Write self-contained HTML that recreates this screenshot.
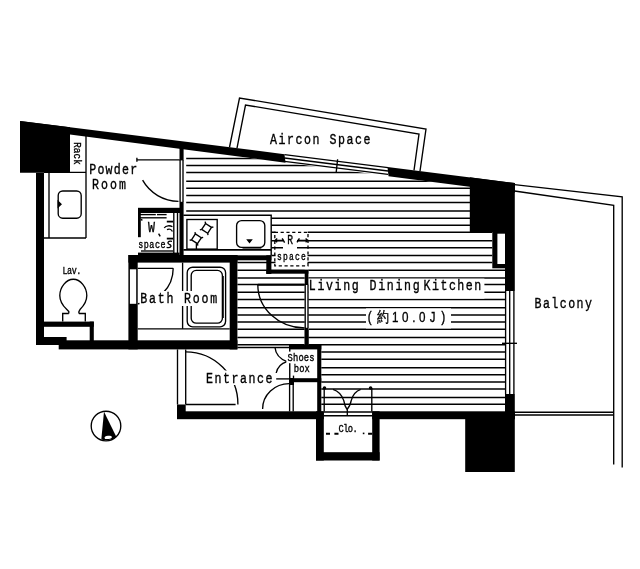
<!DOCTYPE html>
<html><head><meta charset="utf-8"><title>Floor plan</title>
<style>html,body{margin:0;padding:0;background:#fff;}svg{display:block;filter:grayscale(1);}text{font-family:"Liberation Mono",monospace;fill:#000;stroke:#000;stroke-width:0.35px;}</style>
</head><body>
<svg width="640" height="569" viewBox="0 0 640 569">
<rect x="0" y="0" width="640" height="569" fill="#fff"/>
<defs><clipPath id="hc"><polygon points="186.2,149.75 470,186.76 470,232 492.3,232 492.3,268.3 505,268.3 505,412 321.3,412 321.3,346 308.4,346 308.4,269.7 271.4,269.7 271.4,215.2 186.2,215.2"/><polygon points="237.4,260.3 304.7,260.3 304.7,346 237.4,346"/></clipPath></defs>
<g clip-path="url(#hc)" stroke="#000" stroke-width="1.5">
<line x1="180" y1="158.4" x2="510" y2="158.4"/>
<line x1="180" y1="165.4" x2="510" y2="165.4"/>
<line x1="180" y1="172.5" x2="510" y2="172.5"/>
<line x1="180" y1="181.3" x2="510" y2="181.3"/>
<line x1="180" y1="188.25" x2="510" y2="188.25"/>
<line x1="180" y1="195.4" x2="510" y2="195.4"/>
<line x1="180" y1="202.5" x2="510" y2="202.5"/>
<line x1="180" y1="211.1" x2="510" y2="211.1"/>
<line x1="180" y1="218.15" x2="510" y2="218.15"/>
<line x1="180" y1="225.25" x2="510" y2="225.25"/>
<line x1="180" y1="232.25" x2="510" y2="232.25"/>
<line x1="180" y1="240.75" x2="510" y2="240.75"/>
<line x1="180" y1="247.75" x2="510" y2="247.75"/>
<line x1="180" y1="255.4" x2="510" y2="255.4"/>
<line x1="180" y1="262.4" x2="510" y2="262.4"/>
<line x1="180" y1="270.2" x2="510" y2="270.2"/>
<line x1="180" y1="277.9" x2="510" y2="277.9"/>
<line x1="180" y1="284.6" x2="510" y2="284.6"/>
<line x1="180" y1="292.3" x2="510" y2="292.3"/>
<line x1="180" y1="299.5" x2="510" y2="299.5"/>
<line x1="180" y1="307.7" x2="510" y2="307.7"/>
<line x1="180" y1="315" x2="510" y2="315"/>
<line x1="180" y1="322" x2="510" y2="322"/>
<line x1="180" y1="329.15" x2="510" y2="329.15"/>
<line x1="180" y1="337.6" x2="510" y2="337.6"/>
<line x1="180" y1="344.8" x2="510" y2="344.8"/>
<line x1="180" y1="351.9" x2="510" y2="351.9"/>
<line x1="180" y1="359.2" x2="510" y2="359.2"/>
<line x1="180" y1="367.85" x2="510" y2="367.85"/>
<line x1="180" y1="374.7" x2="510" y2="374.7"/>
<line x1="180" y1="381.9" x2="510" y2="381.9"/>
<line x1="180" y1="389" x2="510" y2="389"/>
<line x1="180" y1="397.6" x2="510" y2="397.6"/>
<line x1="180" y1="404.3" x2="510" y2="404.3"/>
</g>
<rect x="308.4" y="278.6" width="176" height="20" fill="#fff"/>
<rect x="366" y="308.4" width="85" height="20" fill="#fff"/>
<rect x="283" y="234" width="14" height="17" fill="#fff"/>
<rect x="275.6" y="231" width="32" height="2.6" fill="#fff"/>
<rect x="275.5" y="250" width="32" height="15.2" fill="#fff"/>
<polygon points="20,121 284.5,154.14 285.5,162.7 20,128.08" fill="#000"/>
<polygon points="387.5,167.05 515,183.02 515,192.63 388.5,176.13" fill="#000"/>
<polygon points="20,121 70,127.27 70,172.8 20,172.8" fill="#000"/>
<polygon points="469.8,177.36 514.8,183 514.8,232 469.8,232" fill="#000"/>
<rect x="505" y="232" width="9.8" height="59" fill="#000"/>
<rect x="492.3" y="232" width="12.7" height="36.3" fill="#000"/>
<rect x="497.4" y="233.7" width="7.6" height="30.3" fill="#fff"/>
<rect x="505" y="394" width="9.8" height="25.2" fill="#000"/>
<rect x="465.2" y="412" width="49.6" height="60" fill="#000"/>
<rect x="177" y="411.3" width="146.8" height="7.9" fill="#000"/>
<rect x="372.2" y="411.3" width="142.6" height="7.9" fill="#000"/>
<rect x="316" y="411.3" width="7.8" height="49.2" fill="#000"/>
<rect x="372.2" y="411.3" width="7.4" height="49.2" fill="#000"/>
<rect x="316" y="452.2" width="63.6" height="8.3" fill="#000"/>
<rect x="36" y="172.8" width="8" height="172.2" fill="#000"/>
<rect x="36" y="337" width="30.6" height="8" fill="#000"/>
<rect x="58.7" y="340.3" width="178.7" height="9.1" fill="#000"/>
<rect x="44" y="321.6" width="49.8" height="5.2" fill="#000"/>
<rect x="89.7" y="321.6" width="4.1" height="19.4" fill="#000"/>
<rect x="128.4" y="255" width="9.3" height="94.4" fill="#000"/>
<rect x="128.4" y="255" width="109" height="7.6" fill="#000"/>
<rect x="229.7" y="255" width="7.7" height="94.4" fill="#000"/>
<rect x="129.9" y="269.3" width="6.3" height="34.5" fill="#fff"/>
<rect x="237" y="255.3" width="34.4" height="5" fill="#000"/>
<rect x="266.3" y="255.3" width="5.1" height="18.7" fill="#000"/>
<rect x="266.3" y="270" width="42.1" height="3.7" fill="#000"/>
<rect x="304.7" y="270" width="3.7" height="15" fill="#000"/>
<rect x="304.7" y="327.8" width="3.7" height="18.2" fill="#000"/>
<rect x="179.5" y="144.05" width="4.1" height="16.35" fill="#000"/>
<rect x="179.5" y="201.8" width="4.1" height="54.2" fill="#000"/>
<rect x="138" y="207.8" width="42" height="5.2" fill="#000"/>
<rect x="138" y="213" width="2.8" height="24.2" fill="#000"/>
<rect x="138" y="252.6" width="41.6" height="3.4" fill="#000"/>
<rect x="289" y="345" width="32.3" height="4.4" fill="#000"/>
<rect x="317.2" y="345" width="4.1" height="67" fill="#000"/>
<rect x="289" y="378.2" width="32.3" height="4" fill="#000"/>
<rect x="289" y="378" width="5" height="7" fill="#000"/>
<rect x="304.7" y="330" width="3.9" height="16" fill="#000"/>
<rect x="177" y="404.5" width="8.7" height="14.5" fill="#000"/>
<g fill="none" stroke="#000" stroke-width="1.35" stroke-linecap="butt" stroke-linejoin="miter">
<polyline points="229.5,147.25 239.5,98 426,129 420,171.12"/>
<polyline points="237,148.19 245.5,105 419,134 414,170.37"/>
<line x1="284.5" y1="154.64" x2="388" y2="167.61"/>
<line x1="284.5" y1="158.04" x2="388" y2="171.01"/>
<line x1="284.5" y1="161.44" x2="388" y2="174.41"/>
<line x1="337.6" y1="159.2" x2="336.2" y2="172.4"/>
<polyline points="514.5,184.7 622.2,196.8 622.2,467.5"/>
<polyline points="514.5,191 613.7,205.4 613.7,464.6"/>
<line x1="514.5" y1="412.2" x2="613.7" y2="412.2"/>
<line x1="514.5" y1="415" x2="613.7" y2="415"/>
<line x1="505.6" y1="291" x2="505.6" y2="394"/>
<line x1="509.7" y1="291" x2="509.7" y2="394"/>
<line x1="513.9" y1="291" x2="513.9" y2="394"/>
<line x1="502" y1="343.3" x2="517" y2="343.3"/>
<line x1="86" y1="133.27" x2="86" y2="238"/>
<line x1="44" y1="172.4" x2="86" y2="172.4"/>
<line x1="49" y1="172.8" x2="49" y2="238"/>
<line x1="44" y1="238" x2="86" y2="238"/>
<rect x="58.2" y="191" width="23" height="27.2" rx="4.5" ry="4.5"/>
<path d="M58.2 201.5 L61 204.3 L58.2 207 Z" fill="#000"/>
<line x1="136.9" y1="159.8" x2="179.8" y2="159.8"/>
<line x1="136.9" y1="157.8" x2="136.9" y2="161.8"/>
<line x1="180.1" y1="160" x2="180.1" y2="202"/>
<line x1="183" y1="160" x2="183" y2="202"/>
<path d="M142.6 180.2 A41.8 41.8 0 0 0 178.5 201.4"/>
<path d="M68.8 313.5 L68.8 311.6 L66.6 309.2 C 62.6 305.5, 59.8 301.5, 59.8 295.5 C 59.8 287.5, 66 279.2, 73.3 279.2 C 80.6 279.2, 86.8 287.5, 86.8 295.5 C 86.8 301.5, 84 305.5, 80.2 309.2 L78.9 311.6 L78.9 313.5"/>
<polyline points="68.8,313.5 62.7,313.5 62.7,321.6"/>
<polyline points="78.9,313.5 85.3,313.5 85.3,321.6"/>
<line x1="138" y1="214.6" x2="155.8" y2="214.6"/>
<line x1="157" y1="214.6" x2="166.6" y2="214.6"/>
<line x1="139.5" y1="217.8" x2="166.6" y2="217.8"/>
<line x1="173.8" y1="211" x2="173.8" y2="253"/>
<line x1="177.5" y1="213" x2="177.5" y2="253"/>
<line x1="141" y1="251" x2="173" y2="251"/>
<polyline points="140.8,219.2 142.4,220.4"/>
<path d="M166.8 221.6 H173" stroke-width="1.8"/>
<path d="M164.2 228 C166 225.4,170 225.2,172.4 226.8 M167 229.6 C169 228.6,171.4 229,172.4 231.6" stroke-width="1.3"/>
<path d="M166.8 238.6 H173" stroke-width="1.8"/>
<path d="M172 241.4 C168 240.6,166.6 243.2,169.4 244.4 C172.4 245.6,171 248.4,166.6 247.4" stroke-width="1.3"/>
<path d="M158.6 233.6 L160.2 236.4" stroke-width="1.4"/>
<polyline points="183.4,215.3 271.2,215.3 271.2,255.3" stroke-width="1.4"/>
<line x1="183.4" y1="249.9" x2="271.2" y2="249.9" stroke-width="1.8"/>
<rect x="186.9" y="219.5" width="30.3" height="29.6"/>
<g transform="translate(196.4 238.8) rotate(-12)"><polygon points="0,-5 5,0 0,5 -5,0" stroke-linejoin="round"/>
<line x1="-5" y1="0" x2="-6.9" y2="0"/>
<line x1="5" y1="0" x2="6.9" y2="0"/>
<line x1="0" y1="-5" x2="0" y2="-6.9"/>
<line x1="0" y1="5" x2="0" y2="6.9"/>
</g>
<g transform="translate(206.6 228.4) rotate(-12)"><polygon points="0,-5 5,0 0,5 -5,0" stroke-linejoin="round"/>
<line x1="-5" y1="0" x2="-6.9" y2="0"/>
<line x1="5" y1="0" x2="6.9" y2="0"/>
<line x1="0" y1="-5" x2="0" y2="-6.9"/>
<line x1="0" y1="5" x2="0" y2="6.9"/>
</g>
<line x1="196.4" y1="243.4" x2="196.4" y2="249"/>
<rect x="236.6" y="220.6" width="28.2" height="26.8" rx="5" ry="5"/>
<path d="M247.6 240 L251.4 240 L249.5 242.4 Z" fill="#000"/>
<line x1="242.5" y1="247.8" x2="261.3" y2="247.8" stroke-width="1.6"/>
<rect x="274.8" y="232.4" width="33.2" height="33.5" stroke-dasharray="3.2 2.6" stroke-width="1.3"/>
<line x1="274.8" y1="240.4" x2="283.5" y2="240.4"/>
<line x1="297.5" y1="240.4" x2="308" y2="240.4"/>
<polyline points="277.2,238.6 275.2,240.4 277.2,242.2"/>
<polyline points="305.6,238.6 307.6,240.4 305.6,242.2"/>
<polyline points="282.2,238.4 284.6,242.6"/>
<polyline points="297,242.4 299.4,238.4"/>
<line x1="137.7" y1="268.3" x2="173.2" y2="268.3"/>
<path d="M173.2 268.3 A35.4 35.4 0 0 1 137.8 303.7"/>
<line x1="182.6" y1="262.6" x2="182.6" y2="328.8"/>
<line x1="137.7" y1="328.8" x2="229.7" y2="328.8"/>
<rect x="187.2" y="267.2" width="38.4" height="59.6" rx="5.5" ry="5.5"/>
<rect x="191.2" y="270.4" width="31.2" height="52.8" rx="5" ry="5"/>
<path d="M222.9 276 L222.9 318" stroke-width="1.8"/>
<line x1="257.8" y1="284.7" x2="304.7" y2="284.7" stroke-width="2"/>
<path d="M257.8 284.7 A47 43.4 0 0 0 304.6 328"/>
<line x1="305.2" y1="285" x2="305.2" y2="328"/>
<line x1="308" y1="285" x2="308" y2="328"/>
<line x1="177.5" y1="349.4" x2="177.5" y2="404.5"/>
<line x1="185.7" y1="349.4" x2="185.7" y2="404.5"/>
<line x1="185.7" y1="404.5" x2="235.6" y2="404.5"/>
<path d="M185.7 351.8 A52.2 52.2 0 0 1 237.9 404.5"/>
<line x1="276.2" y1="378.9" x2="289.5" y2="378.9"/>
<path d="M262.6 409 A26.6 25.4 0 0 1 289.4 383.6"/>
<line x1="289.6" y1="385" x2="289.6" y2="411.5"/>
<line x1="293.2" y1="385" x2="293.2" y2="411.5"/>
<line x1="237.4" y1="347.6" x2="289" y2="347.6" stroke-width="1.5"/>
<line x1="289.75" y1="349" x2="289.75" y2="378.5" stroke-width="1.4"/>
<line x1="293.5" y1="375.6" x2="293.5" y2="378.5"/>
<path d="M275 347.5 C 275.6 354, 279 358.6, 287 361.6 C 280.5 363.6, 277.2 367.6, 276.2 373"/>
<line x1="323.8" y1="411.9" x2="372.2" y2="411.9" stroke-width="1.5"/>
<line x1="323.8" y1="415.8" x2="372.2" y2="415.8" stroke-width="1.5"/>
<line x1="324.2" y1="388" x2="324.2" y2="411.5"/>
<line x1="371.8" y1="388" x2="371.8" y2="411.5"/>
<circle cx="324.5" cy="388" r="1.1" fill="#000"/>
<circle cx="370.6" cy="388" r="1.1" fill="#000"/>
<path d="M333 389.4 C 338 391, 342 395.5, 343.8 400.6 C 344.4 404.5, 345.6 407.6, 347 409.4"/>
<path d="M360.7 389.4 C 356 391, 352.6 395.5, 351.2 400.6 C 350.4 404.5, 348.8 407.6, 347 409.4"/>
<line x1="347.3" y1="408.6" x2="347.3" y2="416"/>
<path d="M326 433.7 H330 M334.4 433.7 H338.5 M368.1 433.7 H372.2" stroke-width="2"/>
<path d="M362.8 433.4 H364.4" stroke-width="1.6"/>
<circle cx="106" cy="426" r="14.8"/>
</g>
<path d="M104 411.8 L116.3 436.8 C 112.5 440.2, 105 441, 101.3 439.4 Z" fill="#000"/>
<ellipse cx="108.2" cy="437.4" rx="3.7" ry="1.6" fill="#fff" transform="rotate(-8 108.2 437.4)"/>
<rect x="139.5" y="291" width="80" height="15" fill="#fff"/>
<rect x="204.5" y="370.5" width="70" height="14.5" fill="#fff"/>
<rect x="286.4" y="351.6" width="29" height="11.6" fill="#fff"/>
<text transform="translate(270 143.8) scale(0.8 1)" font-size="14.5" textLength="125.62" lengthAdjust="spacing">Aircon Space</text>
<text transform="translate(89.2 174) scale(0.8 1)" font-size="14.5" textLength="60" lengthAdjust="spacing">Powder</text>
<text transform="translate(92 189.4) scale(0.8 1)" font-size="14.5" textLength="42.5" lengthAdjust="spacing">Room</text>
<text transform="translate(140.3 303.2) scale(0.8 1)" font-size="14.5" textLength="96.25" lengthAdjust="spacing">Bath Room</text>
<text transform="translate(206 382.6) scale(0.8 1)" font-size="14.5" textLength="83.12" lengthAdjust="spacing">Entrance</text>
<text transform="translate(534.5 307.6) scale(0.8 1)" font-size="14.5" textLength="71.88" lengthAdjust="spacing">Balcony</text>
<text transform="translate(308.8 290.2) scale(0.8 1)" font-size="14.5" textLength="62.5" lengthAdjust="spacing">Living</text>
<text transform="translate(369.6 290.2) scale(0.8 1)" font-size="14.5" textLength="62.5" lengthAdjust="spacing">Dining</text>
<text transform="translate(423.6 290.2) scale(0.8 1)" font-size="14.5" textLength="72" lengthAdjust="spacing">Kitchen</text>
<text transform="translate(366.5 322.2) scale(0.8 1)" font-size="14.5" textLength="100" lengthAdjust="spacing">(約<tspan font-family="Liberation Sans">10.0</tspan>J)</text>
<text transform="translate(62.4 274) scale(0.8 1)" font-size="10.5" textLength="23.75" lengthAdjust="spacing">Lav.</text>
<text transform="translate(287.2 244.2) scale(0.8 1)" font-size="12" textLength="7.75" lengthAdjust="spacing">R</text>
<text transform="translate(277 260) scale(0.8 1)" font-size="10" textLength="36" lengthAdjust="spacing">space</text>
<text transform="translate(287.6 361.2) scale(0.8 1)" font-size="11" textLength="33.75" lengthAdjust="spacing">Shoes</text>
<text transform="translate(293.8 372.4) scale(0.8 1)" font-size="11" textLength="20" lengthAdjust="spacing">box</text>
<text transform="translate(338.4 431.8) scale(0.8 1)" font-size="11" textLength="24.38" lengthAdjust="spacing">Clo.</text>
<text transform="translate(148 231.5) scale(0.8 1)" font-size="14.5" textLength="9" lengthAdjust="spacing">W</text>
<text transform="translate(138.2 248.4) scale(0.8 1)" font-size="10.5" textLength="34.25" lengthAdjust="spacing">space</text>
<text transform="translate(73.8 142.2) rotate(90) scale(0.84 1)" font-size="11" textLength="26.9" lengthAdjust="spacing">Rack</text>
</svg></body></html>
